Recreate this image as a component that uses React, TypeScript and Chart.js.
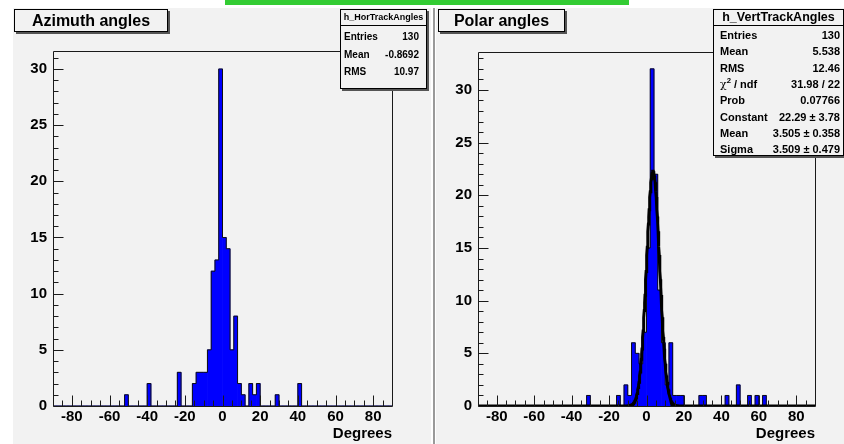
import React, { useEffect, useRef } from "react";
import { Chart, registerables } from "chart.js";

Chart.register(...registerables);

// ---- axis definition ----
const X_MIN = -90;
const X_MAX = 90;
const BIN_WIDTH = 2;
const X_TICK_VALUES = [-80, -60, -40, -20, 0, 20, 40, 60, 80];
const Y_TICK_VALUES = [0, 5, 10, 15, 20, 25, 30];

// ---- histogram contents (low edge of each non-empty 2-degree bin, and its count) ----
const AZIMUTH_BIN_LOW = [-52, -40, -24, -16, -14, -12, -10, -8, -6, -4, -2, 0, 2, 4, 6, 8, 10, 14, 16, 18, 28, 40];
const AZIMUTH_COUNTS = [1, 2, 3, 2, 3, 3, 3, 5, 12, 13, 30, 15, 14, 5, 8, 2, 1, 2, 1, 2, 1, 2];

const POLAR_BIN_LOW = [-32, -16, -12, -10, -8, -6, -4, -2, 0, 2, 4, 6, 8, 10, 12, 14, 16, 18, 28, 30, 42, 48, 54, 58, 62];
const POLAR_COUNTS = [1, 1, 2, 1, 6, 5, 4, 7, 15, 32, 22, 11, 6, 2, 6, 1, 1, 1, 1, 1, 1, 2, 1, 1, 1];

// ---- gaussian fit parameters (from the stats box) ----
const FIT_CONSTANT = 22.29;
const FIT_MEAN = 3.505;
const FIT_SIGMA = 3.509;

// ---- stats boxes ----
const AZIMUTH_STATS: [string, string][] = [
  ["Entries", "130"],
  ["Mean", "-0.8692"],
  ["RMS", "10.97"],
];
const POLAR_STATS: [string, string][] = [
  ["Entries", "130"],
  ["Mean", "5.538"],
  ["RMS", "12.46"],
  ["χ² / ndf", "31.98 / 22"],
  ["Prob", "0.07766"],
  ["Constant", "22.29 ± 3.78"],
  ["Mean", "3.505 ± 0.358"],
  ["Sigma", "3.509 ± 0.479"],
];

const FONT = '"Liberation Sans", Arial, Helvetica, sans-serif';
const PAD_BG = "#f2f2f2";

function fullHistogram(lows: number[], counts: number[]) {
  const n = Math.round((X_MAX - X_MIN) / BIN_WIDTH);
  const arr = new Array(n).fill(0);
  lows.forEach((lo, i) => {
    arr[Math.round((lo - X_MIN) / BIN_WIDTH)] = counts[i];
  });
  return arr;
}

const rootFramePlugin = {
  id: "rootFrame",
  afterDatasetsDraw(chart: any) {
    const { ctx, chartArea: a, scales } = chart;
    const xs = scales.x;
    const ys = scales.y;
    ctx.save();
    ctx.strokeStyle = "#1a1a1a";
    ctx.lineWidth = 1;
    const L = Math.round(a.left) + 0.5;
    const R = Math.round(a.right) + 0.5;
    const T = Math.round(a.top) + 0.5;
    const B = Math.round(a.bottom) + 0.5;
    ctx.beginPath();
    ctx.moveTo(L, B);
    ctx.lineTo(L, T);
    ctx.lineTo(R, T);
    ctx.lineTo(R, B);
    ctx.lineTo(L, B);
    ctx.stroke();
    ctx.beginPath();
    // x ticks: minor every 5, major at labelled values
    for (let v = X_MIN + 5; v < X_MAX; v += 5) {
      const px = Math.round(xs.getPixelForValue(v)) + 0.5;
      const len = X_TICK_VALUES.includes(v) ? 11 : 6;
      ctx.moveTo(px, B);
      ctx.lineTo(px, B - len);
    }
    // y ticks: minor every 1, major at labelled values
    for (let v = 0; v <= ys.max; v += 1) {
      const py = Math.round(ys.getPixelForValue(v)) + 0.5;
      const len = Y_TICK_VALUES.includes(v) ? 10 : 5;
      ctx.moveTo(L, py);
      ctx.lineTo(L + len, py);
    }
    ctx.stroke();
    ctx.restore();
  },
};

type Area = { left: number; top: number; right: number; bottom: number };

function HistChart(props: {
  lows: number[];
  counts: number[];
  yMax: number;
  withFit: boolean;
  width: number;
  height: number;
  area: Area;
}) {
  const ref = useRef<HTMLCanvasElement | null>(null);
  useEffect(() => {
    const { lows, counts, yMax, withFit, width, height, area } = props;
    const hist = fullHistogram(lows, counts);
    const bars = hist.map((c, i) => ({ x: X_MIN + (i + 0.5) * BIN_WIDTH, y: c }));
    const contour: { x: number; y: number }[] = [{ x: X_MIN, y: 0 }];
    hist.forEach((c, i) => contour.push({ x: X_MIN + i * BIN_WIDTH, y: c }));
    contour.push({ x: X_MAX, y: 0 });

    const datasets: any[] = [];
    if (withFit) {
      const fitPts: { x: number; y: number }[] = [];
      for (let x = X_MIN; x <= X_MAX + 1e-9; x += 0.2) {
        const z = (x - FIT_MEAN) / FIT_SIGMA;
        fitPts.push({ x, y: FIT_CONSTANT * Math.exp(-0.5 * z * z) });
      }
      datasets.push({
        type: "line",
        data: fitPts,
        borderColor: "#000",
        borderWidth: 3,
        pointRadius: 0,
        tension: 0,
        fill: false,
        order: 0,
      });
    }
    datasets.push({
      type: "line",
      data: contour,
      stepped: "before",
      borderColor: "#111",
      borderWidth: 1,
      pointRadius: 0,
      fill: false,
      order: 1,
    });
    datasets.push({
      type: "bar",
      data: bars,
      backgroundColor: "#0000ff",
      borderWidth: 0,
      barPercentage: 1,
      categoryPercentage: 1,
      order: 2,
    });

    const tickFont = { family: FONT, size: 15, weight: "bold" as const };
    const chart = new Chart(ref.current as HTMLCanvasElement, {
      type: "bar",
      data: { datasets },
      plugins: [rootFramePlugin],
      options: {
        animation: false,
        responsive: false,
        maintainAspectRatio: false,
        devicePixelRatio: 1,
        events: [],
        layout: { padding: { left: 0, top: area.top, right: width - area.right, bottom: 0 } },
        plugins: { legend: { display: false }, tooltip: { enabled: false }, title: { display: false } },
        scales: {
          x: {
            type: "linear",
            min: X_MIN,
            max: X_MAX,
            offset: false,
            grid: { display: false, drawTicks: false, tickLength: 0, offset: false },
            border: { display: false },
            afterBuildTicks: (s: any) => {
              s.ticks = X_TICK_VALUES.map((v) => ({ value: v }));
            },
            afterFit: (s: any) => {
              s.height = height - area.bottom;
            },
            ticks: { color: "#000", font: tickFont, padding: 2, maxRotation: 0, autoSkip: false },
            title: {
              display: true,
              text: "Degrees",
              align: "end",
              color: "#000",
              font: { family: FONT, size: 15, weight: "bold" },
              padding: { top: 0, bottom: 1 },
            },
          },
          y: {
            type: "linear",
            min: 0,
            max: yMax,
            grid: { display: false, drawTicks: false, tickLength: 0 },
            border: { display: false },
            afterBuildTicks: (s: any) => {
              s.ticks = Y_TICK_VALUES.map((v) => ({ value: v }));
            },
            afterFit: (s: any) => {
              s.width = area.left;
            },
            ticks: { color: "#000", font: tickFont, padding: 6, autoSkip: false },
          },
        },
      } as any,
    });
    return () => chart.destroy();
  }, []);
  return (
    <canvas
      ref={ref}
      width={props.width}
      height={props.height}
      style={{ position: "absolute", left: 0, top: 0, width: props.width, height: props.height }}
    />
  );
}

function TitleBox(props: { text: string; left: number; top: number; width: number; height: number }) {
  return (
    <div
      style={{
        position: "absolute",
        left: props.left,
        top: props.top,
        width: props.width,
        height: props.height,
        boxSizing: "border-box",
        border: "1px solid #000",
        boxShadow: "2px 2px 0 #555",
        background: PAD_BG,
        font: `bold 16px ${FONT}`,
        lineHeight: `${props.height - 2}px`,
        textAlign: "center",
        color: "#000",
        whiteSpace: "nowrap",
      }}
    >
      {props.text}
    </div>
  );
}

function StatsBox(props: {
  name: string;
  rows: [string, string][];
  left: number;
  top: number;
  width: number;
  height: number;
  titleHeight: number;
  titleSize: number;
  rowSize: number;
  firstRow: number;
  rowStep: number;
  padL: number;
  padR: number;
}) {
  const p = props;
  return (
    <div
      style={{
        position: "absolute",
        left: p.left,
        top: p.top,
        width: p.width,
        height: p.height,
        boxSizing: "border-box",
        border: "1px solid #000",
        boxShadow: "2px 2px 0 #555",
        background: PAD_BG,
        color: "#000",
        fontFamily: FONT,
        fontWeight: "bold",
      }}
    >
      <div
        style={{
          position: "absolute",
          left: 0,
          top: 0,
          right: 0,
          height: p.titleHeight,
          borderBottom: "1px solid #000",
          fontSize: p.titleSize,
          lineHeight: `${p.titleHeight}px`,
          textAlign: "center",
          whiteSpace: "nowrap",
        }}
      >
        {p.name}
      </div>
      {p.rows.map(([k, v], i) => (
        <div
          key={i}
          style={{
            position: "absolute",
            left: p.padL,
            right: p.padR,
            top: p.firstRow + i * p.rowStep - 7,
            height: 14,
            lineHeight: "14px",
            fontSize: p.rowSize,
            display: "flex",
            justifyContent: "space-between",
            whiteSpace: "nowrap",
          }}
        >
          <span>
            {k.startsWith("χ") ? (
              <>
                <span style={{ fontWeight: "normal", fontFamily: '"DejaVu Serif", serif' }}>χ</span>
                <sup style={{ fontSize: "0.7em", lineHeight: 0 }}>2</sup>
                {" / ndf"}
              </>
            ) : (
              k
            )}
          </span>
          <span>{v}</span>
        </div>
      ))}
    </div>
  );
}

export default function App() {
  useEffect(() => {
    document.body.style.margin = "0";
  }, []);
  return (
    <div
      style={{
        position: "fixed",
        left: 0,
        top: 0,
        width: 844,
        height: 444,
        background: "#fff",
        overflow: "hidden",
      }}
    >
      <div style={{ position: "absolute", left: 225, top: 0, width: 404, height: 5, background: "#33cc33" }} />

      {/* left pad */}
      <div style={{ position: "absolute", left: 13, top: 8, width: 418, height: 436, background: PAD_BG }}>
        <HistChart
          lows={AZIMUTH_BIN_LOW}
          counts={AZIMUTH_COUNTS}
          yMax={31.6}
          withFit={false}
          width={418}
          height={436}
          area={{ left: 40, top: 43, right: 379, bottom: 398 }}
        />
        <TitleBox text="Azimuth angles" left={1} top={1} width={154} height={23} />
        <StatsBox
          name="h_HorTrackAngles"
          rows={AZIMUTH_STATS}
          left={327}
          top={1}
          width={87}
          height={80}
          titleHeight={15}
          titleSize={9}
          rowSize={10}
          firstRow={27}
          rowStep={17.5}
          padL={3}
          padR={7}
        />
      </div>

      {/* divider */}
      <div style={{ position: "absolute", left: 433, top: 8, width: 2, height: 436, background: "#9a9a9a" }} />

      {/* right pad */}
      <div style={{ position: "absolute", left: 436, top: 8, width: 408, height: 436, background: PAD_BG }}>
        <HistChart
          lows={POLAR_BIN_LOW}
          counts={POLAR_COUNTS}
          yMax={33.6}
          withFit={true}
          width={408}
          height={436}
          area={{ left: 42, top: 44, right: 379, bottom: 398 }}
        />
        <TitleBox text="Polar angles" left={2} top={1} width={127} height={23} />
        <StatsBox
          name="h_VertTrackAngles"
          rows={POLAR_STATS}
          left={277}
          top={1}
          width={131}
          height={147}
          titleHeight={15}
          titleSize={12.5}
          rowSize={11}
          firstRow={25}
          rowStep={16.3}
          padL={6}
          padR={3}
        />
      </div>
    </div>
  );
}
